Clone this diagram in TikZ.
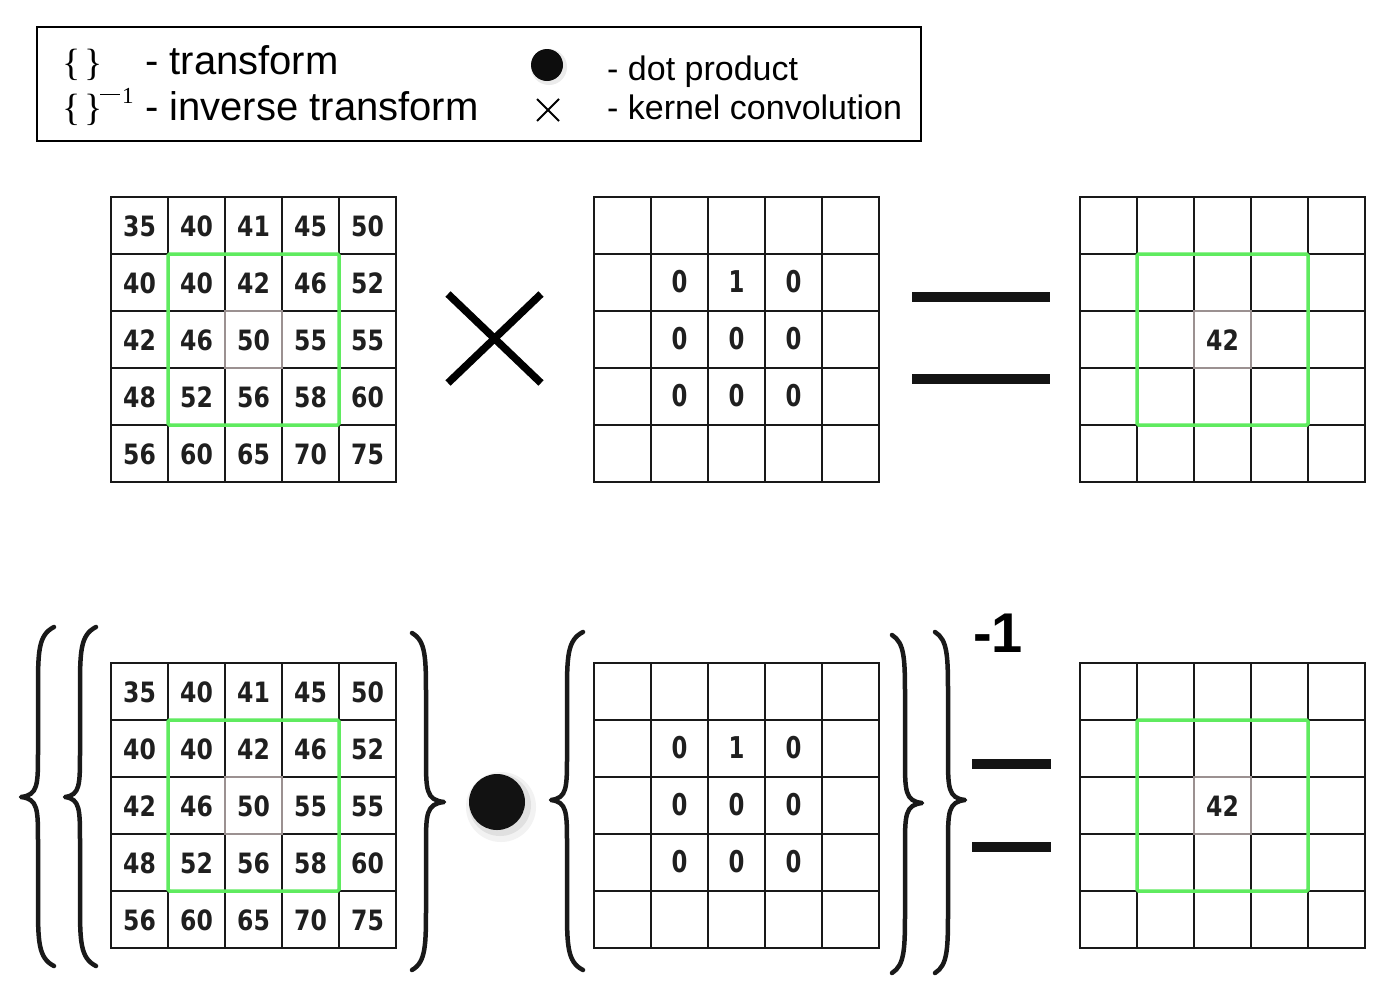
\documentclass[tikz,border=0pt]{standalone}
\usepackage{fontspec}
\usepackage{graphicx}
\setmainfont{Liberation Sans}
\newfontfamily\serifb{Liberation Serif}
\newfontfamily\numf{DejaVu Sans}
\definecolor{grn}{RGB}{95,235,95}
\definecolor{cgray}{RGB}{155,145,145}
\tikzset{
  gridline/.style={line width=2.5pt, black!90, line cap=rect},
  greenbox/.style={line width=3.5pt, grn, rounded corners=1.5pt},
  centerbox/.style={line width=2pt, cgray},
  num/.style={font=\numf\bfseries\fontsize{28}{28}\selectfont, inner sep=0pt, text=black!88},
  knum/.style={font=\numf\bfseries\fontsize{30}{30}\selectfont, inner sep=0pt, text=black!88},
  legbig/.style={font=\fontsize{40}{40}\selectfont, inner sep=0pt, anchor=base west},
  legsmall/.style={font=\fontsize{34}{34}\selectfont, inner sep=0pt, anchor=base west},
  legbrace/.style={font=\serifb\fontsize{38}{38}\selectfont, inner sep=0pt, anchor=base west},
  supstyle/.style={font=\serifb\fontsize{23}{23}\selectfont, inner sep=0pt, anchor=base west},
  bracestyle/.style={line width=4.5pt, black!90, line cap=round, line join=round},
  eqbar/.style={fill=black!92},
}
\newcommand\drawgrid[2]{%
  \foreach \k in {0,...,5}{
    \draw[gridline] (#1+57*\k, #2) -- (#1+57*\k, #2+285);
    \draw[gridline] (#1, #2+57*\k) -- (#1+285, #2+57*\k);
  }
}
\newcommand\curlybr[6]{%
  \draw[bracestyle] (#1,#4) .. controls (#2,#4+8) and (#2,#4+25) .. (#2,#4+65)
    -- (#2,#5-45) .. controls (#2,#5-12) and (#2,#5-2) .. (#3,#5)
    .. controls (#2,#5+2) and (#2,#5+12) .. (#2,#5+45)
    -- (#2,#6-65) .. controls (#2,#6-25) and (#2,#6-8) .. (#1,#6);
}
\begin{document}
\begin{tikzpicture}[x=1pt,y=-1pt]
\useasboundingbox (0,0) rectangle (1400,989);
\fill[white] (0,0) rectangle (1400,989);

% ---------- legend ----------
\draw[line width=2.5pt] (37,27) rectangle (921,141);
\node[legbrace] (lb1) at (62,75) {\{\hspace{4pt}\}};
\node[legbrace] (lb2) at (62,120) {\{\hspace{4pt}\}};
\node[supstyle] (lsup) at (100,103) {\rule[8pt]{20pt}{1.4pt}\hspace{2pt}1};
\node[legbig] (lt) at (145,74) {- transform};
\node[legbig] (lit) at (145,120) {- inverse transform};
\fill[black!8] (549,67) circle (18);
\fill[black!95] (547,65) circle (16);
\draw[line width=1.8pt] (537,99) -- (559,121) (537,121) -- (559,99);
\node[legsmall] (ldp) at (607,80) {- dot product};
\node[legsmall] (lkc) at (607,119) {- kernel convolution};

% ---------- top row ----------
% image grid
\drawgrid{111}{197}
\draw[greenbox] (168,254) rectangle (339,425);
\draw[centerbox] (225,311) rectangle (282,368);
\foreach \row [count=\r from 0] in {{35,40,41,45,50},{40,40,42,46,52},{42,46,50,55,55},{48,52,56,58,60},{56,60,65,70,75}}{
  \foreach \v [count=\c from 0] in \row {
    \node[num] (a-\r-\c) at (111+57*\c+28.5, 197+57*\r+29) {\scalebox{0.84}[1]{\v}};
  }
}
% convolution sign
\draw[line width=7.5pt] (448,294) -- (541,383) (448,383) -- (541,294);
% kernel
\drawgrid{594}{197}
\foreach \row [count=\r from 1] in {{0,1,0},{0,0,0},{0,0,0}}{
  \foreach \v [count=\c from 1] in \row {
    \node[knum] (k-\r-\c) at (594+57*\c+28.5, 197+57*\r+28) {\scalebox{0.76}[1]{\v}};
  }
}
% equals
\fill[eqbar] (912,292) rectangle (1050,302);
\fill[eqbar] (912,374) rectangle (1050,384);
% result
\drawgrid{1080}{197}
\draw[greenbox] (1137,254) rectangle (1308,425);
\draw[centerbox] (1194,311) rectangle (1251,368);
\node[num] (r1) at (1222.5,340) {\scalebox{0.84}[1]{42}};

% ---------- bottom row ----------
\curlybr{54}{38}{21}{627}{797}{966}
\curlybr{96}{80}{65}{627}{797}{966}
\drawgrid{111}{663}
\draw[greenbox] (168,720) rectangle (339,891);
\draw[centerbox] (225,777) rectangle (282,834);
\foreach \row [count=\r from 0] in {{35,40,41,45,50},{40,40,42,46,52},{42,46,50,55,55},{48,52,56,58,60},{56,60,65,70,75}}{
  \foreach \v [count=\c from 0] in \row {
    \node[num] (b-\r-\c) at (111+57*\c+28.5, 663+57*\r+29) {\scalebox{0.84}[1]{\v}};
  }
}
\curlybr{412}{426}{444}{633}{802}{970}
% dot product
\fill[black!5] (501,807) circle (35);
\fill[black!12] (500,805) circle (31);
\fill[black!93] (497,802) circle (28);
% kernel
\curlybr{583}{567}{551}{632}{800}{970}
\drawgrid{594}{663}
\foreach \row [count=\r from 1] in {{0,1,0},{0,0,0},{0,0,0}}{
  \foreach \v [count=\c from 1] in \row {
    \node[knum] (kb-\r-\c) at (594+57*\c+28.5, 663+57*\r+28) {\scalebox{0.76}[1]{\v}};
  }
}
\curlybr{892}{905}{922}{635}{803}{973}
\curlybr{935}{948}{965}{632}{800}{973}
\node[font=\bfseries\fontsize{56}{56}\selectfont, inner sep=0pt] (inv) at (998,633) {-1};
% equals
\fill[eqbar] (972,759) rectangle (1051,769);
\fill[eqbar] (972,842) rectangle (1051,852);
% result
\drawgrid{1080}{663}
\draw[greenbox] (1137,720) rectangle (1308,891);
\draw[centerbox] (1194,777) rectangle (1251,834);
\node[num] (r2) at (1222.5,806) {\scalebox{0.84}[1]{42}};
\end{tikzpicture}
\end{document}
